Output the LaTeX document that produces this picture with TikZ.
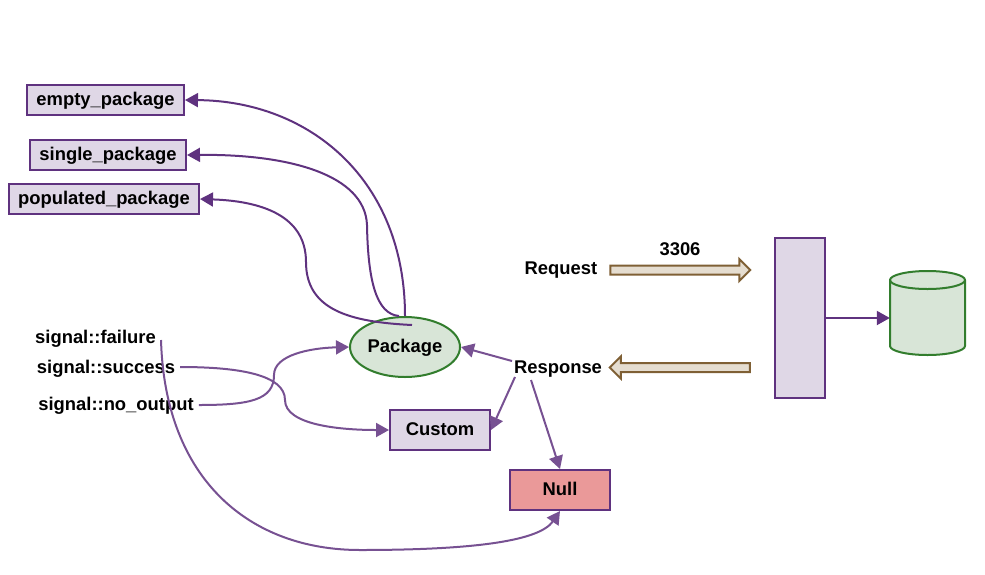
\documentclass[tikz,border=0pt]{standalone}
\usepackage{fontspec}
\setmainfont{Liberation Sans}
\usetikzlibrary{arrows.meta,shapes.geometric,shapes.arrows}
\definecolor{colorline}{HTML}{5F327F}
\definecolor{colorfill}{HTML}{DFD7E6}
\definecolor{colorgreen}{HTML}{327D2D}
\definecolor{colorgreenfill}{HTML}{D8E5D7}
\definecolor{colornull}{HTML}{EA9999}
\definecolor{colorbrown}{HTML}{7F6035}
\definecolor{colorbrownfill}{HTML}{E5DDD0}
\tikzset{
  label/.style={font=\fontsize{18.4}{20}\selectfont\bfseries,inner sep=5pt,text height=13pt,text depth=2pt},
  box/.style={label,draw=colorline,fill=colorfill,line width=2pt,inner sep=0pt},
  link/.style={draw=colorline,line width=2pt,-{Triangle[length=13pt,width=14pt]}},
  softlink/.style={link,draw=colorline!85!white},
  blockarrow/.style={single arrow,draw=colorbrown,fill=colorbrownfill,line width=2pt,
    minimum height=140pt,text height=7pt,text depth=0pt,single arrow head extend=6.5pt,inner sep=0pt},
}
\begin{document}
\begin{tikzpicture}[x=1pt,y=-1pt]
\useasboundingbox (0,0) rectangle (985,574);

% Package variants (top left)
\node[box,minimum width=157pt,minimum height=30pt] (empty_package) at (105.5,100) {empty\_package};
\node[box,minimum width=156pt,minimum height=30pt] (single_package) at (108,155) {single\_package};
\node[box,minimum width=190pt,minimum height=30pt] (populated_package) at (104,199) {populated\_package};

% Middle shapes
\node[label,ellipse,draw=colorgreen,fill=colorgreenfill,line width=2pt,inner sep=0pt,
  minimum width=110pt,minimum height=60pt] (package) at (405,347) {Package};
\node[box,minimum width=100pt,minimum height=40pt] (custom) at (440,430) {Custom};
\node[box,fill=colornull,minimum width=100pt,minimum height=40pt] (null) at (560,490) {Null};

% Signals
\node[label] (signal_failure) at (95.5,338) {signal::failure};
\node[label] (signal_success) at (106,368) {signal::success};
\node[label] (signal_no_output) at (116,405) {signal::no\_output};

% Request and response
\node[label] (request) at (561,269) {Request};
\node[label] (port) at (680,250) {3306};
\node[label,inner sep=2pt] (response) at (558,368) {Response};
\node[blockarrow] (request_arrow) at (678,270) {};
\node[blockarrow,shape border rotate=180] (response_arrow) at (682,367.5) {};

% Server and database
\node[box,minimum width=50pt,minimum height=160pt] (server) at (800,318) {};
\node[minimum width=75pt,minimum height=84pt,inner sep=0pt] (database) at (927.5,313) {};
\draw[draw=colorgreen,fill=colorgreenfill,line width=2pt] (890,280) -- (890,346)
  arc (180:360:37.5pt and 9pt) -- (965,280) arc (0:180:37.5pt and 9pt) -- cycle;
\draw[draw=colorgreen,line width=2pt] (890,280) arc (180:360:37.5pt and 9pt);
\draw[link] (server.east) -- (server.east -| database.west);

% Free ends on the package
\coordinate (package_a) at (399,316);
\coordinate (package_b) at (412,325);

% Links out of the package
\draw[link] (package.north) .. controls (405,180) and (310,101) .. (empty_package.east);
\draw[link] (package_a) .. controls (376,314) and (368,280) .. (367,225)
  .. controls (365,175) and (290,154) .. (single_package.east);
\draw[link] (package_b) .. controls (350,322) and (306,310) .. (306,262)
  .. controls (306,215) and (260,201) .. (populated_package.east);

% Links from the signals
\draw[softlink] ([yshift=-2pt]signal_failure.east) .. controls (165,480) and (250,550) .. (360,550)
  .. controls (480,550) and (540,540) .. (null.south);
\draw[softlink] ([yshift=1pt]signal_success.east) .. controls (240,367) and (285,375) .. (285,400)
  .. controls (285,425) and (340,430) .. (custom.west);
\draw[softlink] (signal_no_output.east) .. controls (250,405) and (274,400) .. (274,375)
  .. controls (274,355) and (310,348) .. (package.west);

% Links from the response
\coordinate (response_a) at (512,361);
\coordinate (response_b) at (515,377);
\coordinate (response_c) at (531,380);
\draw[softlink] (response_a) -- (package.east);
\draw[softlink] (response_b) -- (custom.east);
\draw[softlink] (response_c) -- (null.north);

\end{tikzpicture}
\end{document}
